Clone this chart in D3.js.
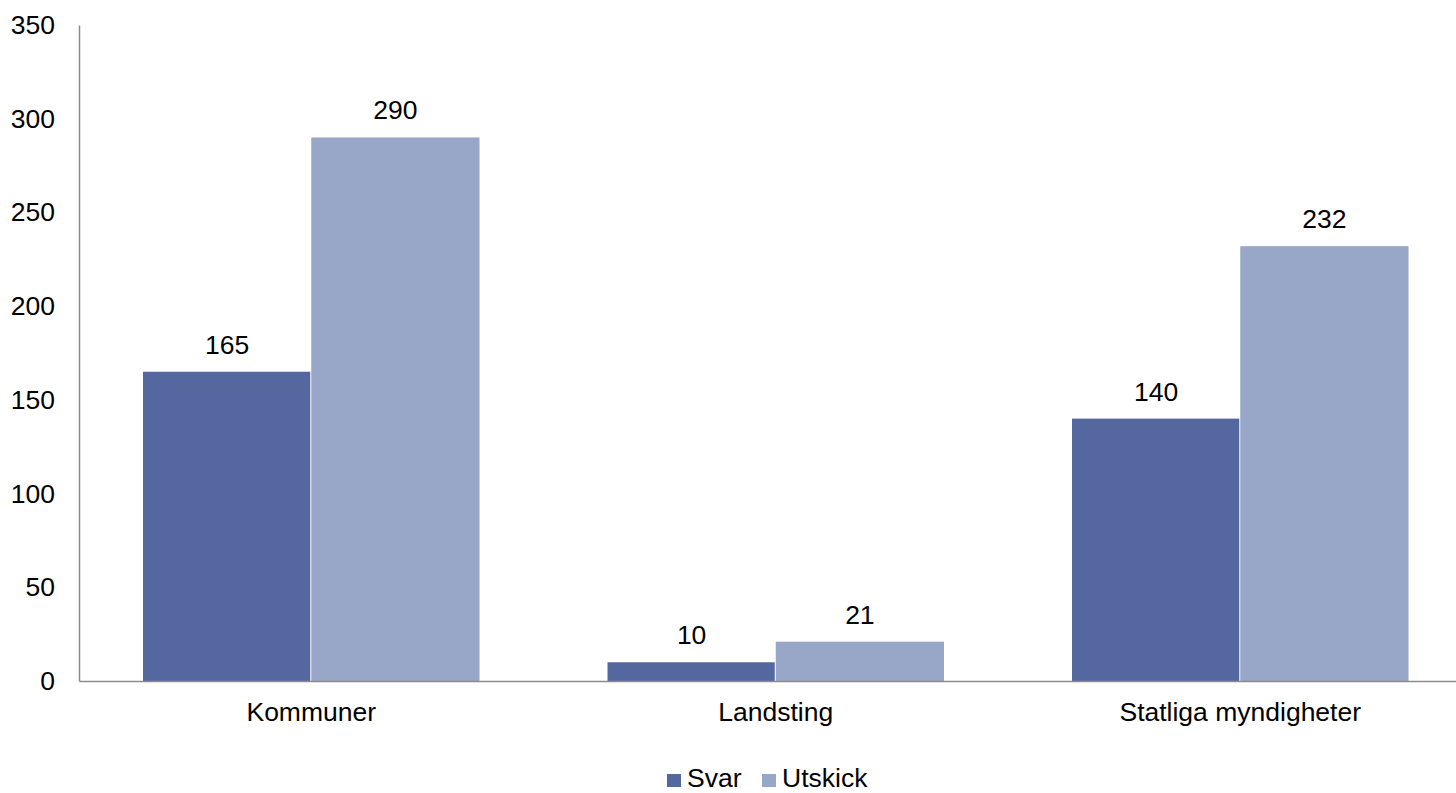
<!DOCTYPE html>
<html><head><meta charset="utf-8">
<script src="https://cdn.jsdelivr.net/npm/d3@7/dist/d3.min.js"></script>
<style>body{margin:0;background:#fff}svg{display:block}text{font-family:"Liberation Sans",Arial,sans-serif;fill:#000}</style>
</head><body>
<svg id="c" width="1456" height="793"></svg>
<script>
const categories = ["Kommuner", "Landsting", "Statliga myndigheter"];
const seriesNames = ["Svar", "Utskick"];
const svar = [165, 10, 140];
const utskick = [290, 21, 232];
const yTicks = [0, 50, 100, 150, 200, 250, 300, 350];
const colors = ["#55679F", "#98A6C8"];

const FS = "26.5px";
const FF = '"Liberation Sans",Arial,sans-serif';
const svg = d3.select("#c");
const left = 79, zeroY = 681, topY = 25, bandW = 464.5;
const x = d3.scaleBand().domain(categories).range([left, left + bandW * 3]).paddingInner(0).paddingOuter(0);
const y = d3.scaleLinear().domain([0, 350]).range([zeroY, topY]);
const inner = d3.scaleBand().domain(seriesNames).range([64, bandW - 64]);
const values = [svar, utskick];

// bars
seriesNames.forEach((s, si) => {
  const g = svg.append("g");
  g.selectAll("rect").data(categories).join("rect")
    .attr("x", c => x(c) + inner(s))
    .attr("y", (c, i) => y(values[si][i]))
    .attr("width", inner.bandwidth() - (si === 0 ? 1 : 0))
    .attr("height", (c, i) => zeroY - y(values[si][i]))
    .attr("fill", colors[si]);
  g.selectAll("text").data(categories).join("text")
    .attr("x", c => x(c) + inner(s) + inner.bandwidth() / 2)
    .attr("y", (c, i) => y(values[si][i]) - 18)
    .attr("text-anchor", "middle")
    .style("font-size", FS)
    .text((c, i) => values[si][i]);
});

// y axis
const yAxis = d3.axisLeft(y).tickValues(yTicks).tickSize(0).tickPadding(24);
const ya = svg.append("g").attr("transform", `translate(${left},0)`).call(yAxis);
ya.select(".domain").attr("stroke", "#8c8c8c").attr("stroke-width", 1.5);
ya.selectAll("text").style("font-size", FS).style("font-family", FF).attr("fill", "#000");

// x axis
const xAxis = d3.axisBottom(x).tickSize(0).tickPadding(21);
const xa = svg.append("g").attr("transform", `translate(0,${zeroY})`).call(xAxis);
xa.select(".domain").attr("stroke", "#8c8c8c").attr("stroke-width", 1.5);
xa.selectAll("text").style("font-size", FS).style("font-family", FF).attr("fill", "#000");

// legend
const legend = svg.append("g");
const legX = [667, 762];
seriesNames.forEach((s, i) => {
  legend.append("rect").attr("x", legX[i]).attr("y", 774).attr("width", 14).attr("height", 13).attr("fill", colors[i]);
  legend.append("text").attr("x", legX[i] + 20).attr("y", 787).style("font-size", FS).text(s);
});
</script>
</body></html>
